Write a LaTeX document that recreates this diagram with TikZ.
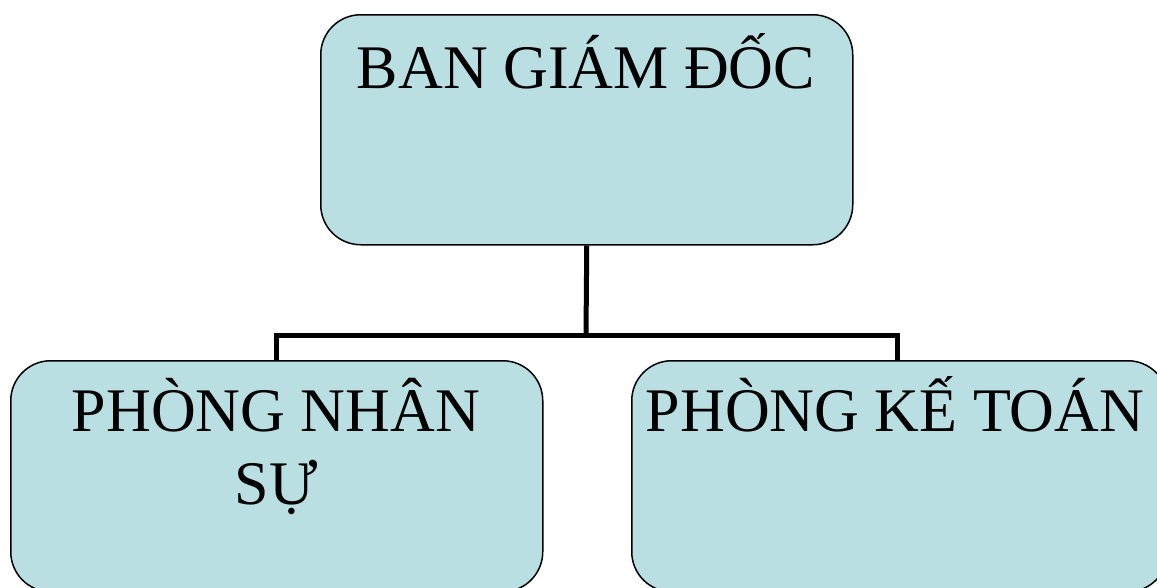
\documentclass[tikz,border=0pt]{standalone}
\usepackage{fontspec}
\setmainfont{Liberation Serif}
\definecolor{boxfill}{RGB}{186,223,227}
\begin{document}
\begin{tikzpicture}[x=1pt,y=-1pt,
  box/.style={draw=black, line width=1.5pt, fill=boxfill, rounded corners=40pt,
    rectangle, inner sep=0pt, minimum width=532pt, minimum height=230pt},
  lbl/.style={font=\fontsize{62}{73}\selectfont, inner sep=0pt, align=center},
  link/.style={line width=5pt}]
\begin{scope}
\clip (0,0) rectangle (1157,587);
\node[box, anchor=north west] (top) at (320,14) {};
\node[box, anchor=north west, minimum height=231pt] (left) at (10,360) {};
\node[box, anchor=north west, minimum width=536pt, minimum height=231pt] (right) at (631,360) {};
\end{scope}
\useasboundingbox (0,0) rectangle (1157,587);
\node[lbl, anchor=base] (ttop) at (586,88) {BAN GIÁM ĐỐC};
\node[lbl, anchor=base] (tright) at (895,431) {PHÒNG KẾ TOÁN};
\node[lbl, anchor=north] (tleft) at (276,378) {PHÒNG NHÂN\\SỰ};
\coordinate (j) at (586,335);
\draw[link] (top.south) -- (j);
\draw[link] (left.north -| 276,0) |- (j) -| (right.north -| 897,0);
\end{tikzpicture}
\end{document}
